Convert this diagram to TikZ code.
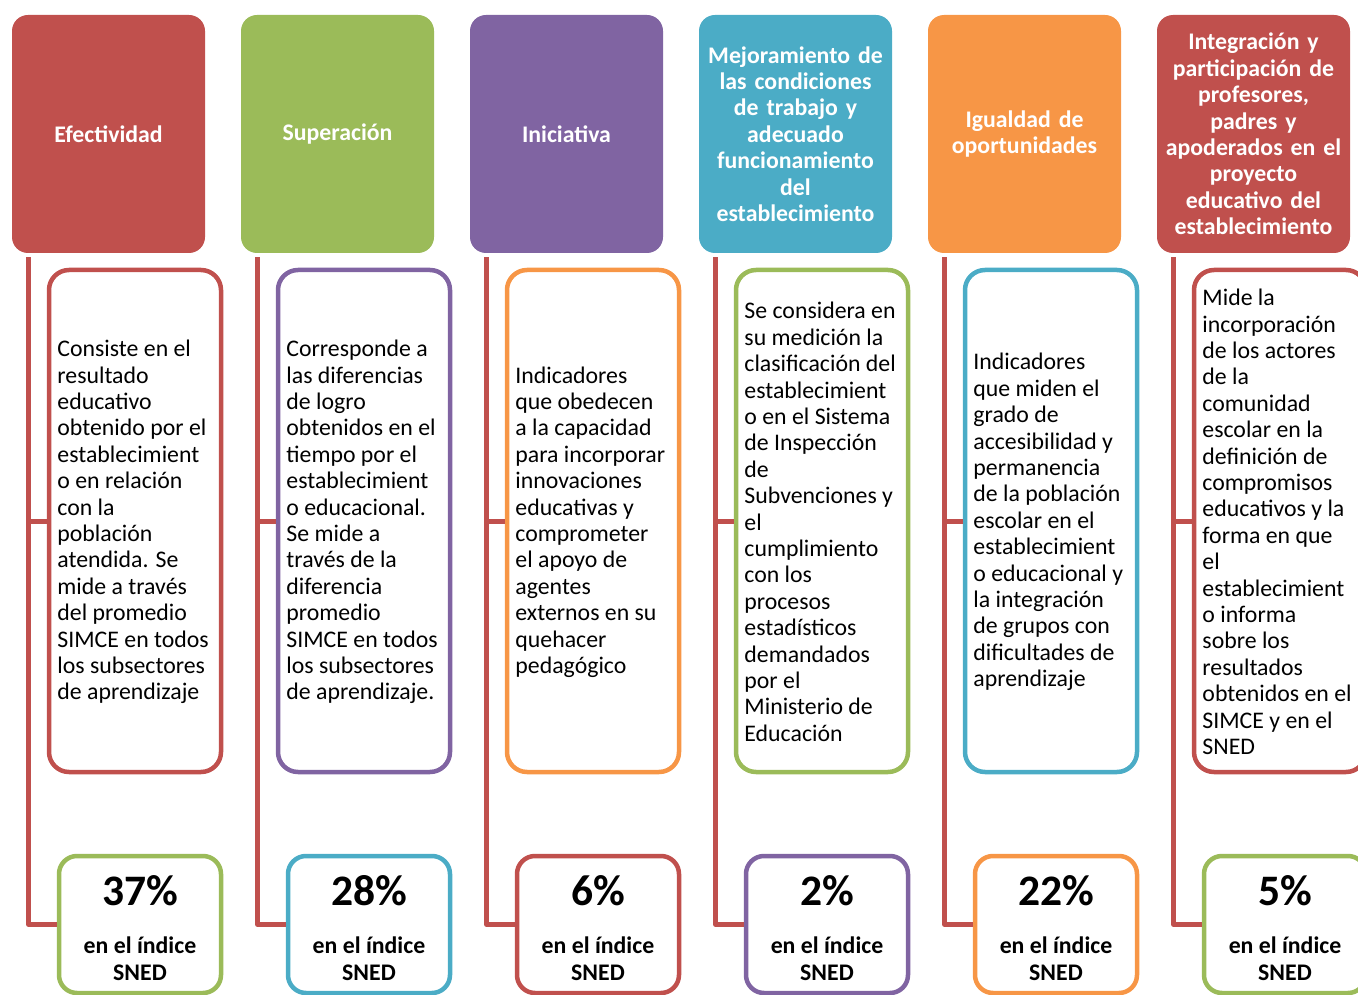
\documentclass[tikz,border=0pt]{standalone}
\usepackage{fontspec}
\setmainfont{Carlito}
\definecolor{cred}{HTML}{C0504D}
\definecolor{cgreen}{HTML}{9BBB59}
\definecolor{cpurple}{HTML}{8064A2}
\definecolor{caqua}{HTML}{4BACC6}
\definecolor{corange}{HTML}{F79646}
\tikzset{
  header/.style={rectangle, rounded corners=16pt, fill=#1, minimum width=193pt, minimum height=238pt,
    inner sep=0pt, text width=190pt, align=center, text=white,
    font=\fontsize{23.8}{26.4}\selectfont\bfseries},
  descbox/.style={rectangle, rounded corners=20pt, draw=#1, line width=4.5pt, minimum width=172pt, minimum height=502pt, inner sep=0pt},
  desctext/.style={anchor=west, inner sep=0pt, align=left, font=\fontsize{23.8}{26.4}\selectfont},
  botbox/.style={rectangle, rounded corners=18pt, draw=#1, line width=4.5pt, minimum width=162pt, minimum height=137pt, inner sep=0pt},
  bottext/.style={inner sep=0pt, align=center, font=\fontsize{23.8}{26.4}\selectfont\bfseries},
  conn/.style={draw=cred, line width=5pt, line join=round}
}
\newcommand{\botlabel}[1]{{\fontsize{43.5}{48}\selectfont #1}\\[22pt]en el índice\\SNED}
\begin{document}
\begin{tikzpicture}[x=1pt,y=-1pt]
\useasboundingbox (0,0) rectangle (1358,995);
\clip (0,0) rectangle (1358,995);
% headers
\node[header=cred]    (h1) at (108.5,134) {Efectividad};
\node[header=cgreen]  (h2) at (337.5,134) {Superación};
\node[header=cpurple] (h3) at (566.5,134) {Iniciativa};
\node[header=caqua]   (h4) at (795.5,134) {Mejoramiento de\\las condiciones\\de trabajo y\\adecuado\\funcionamiento\\del\\establecimiento};
\node[header=corange] (h5) at (1024.5,134) {Igualdad de\\oportunidades};
\node[header=cred]    (h6) at (1253.5,134) {Integración y\\participación de\\profesores,\\padres y\\apoderados en el\\proyecto\\educativo del\\establecimiento};
% description boxes
\node[descbox=cred]    (d1) at (135,521) {};
\node[descbox=cpurple] (d2) at (364,521) {};
\node[descbox=corange] (d3) at (593,521) {};
\node[descbox=cgreen]  (d4) at (822,521) {};
\node[descbox=caqua]   (d5) at (1051,521) {};
\node[descbox=cred]    (d6) at (1280,521) {};
\node[desctext] (t1) at ([xshift=10.5pt,yshift=-1pt]d1.west) {Consiste en el\\resultado\\educativo\\obtenido por el\\establecimient\\o en relación\\con la\\población\\atendida. Se\\mide a través\\del promedio\\SIMCE en todos\\los subsectores\\de aprendizaje};
\node[desctext] (t2) at ([xshift=10.5pt,yshift=-1pt]d2.west) {Corresponde a\\las diferencias\\de logro\\obtenidos en el\\tiempo por el\\establecimient\\o educacional.\\Se mide a\\través de la\\diferencia\\promedio\\SIMCE en todos\\los subsectores\\de aprendizaje.};
\node[desctext] (t3) at ([xshift=10.5pt,yshift=-1pt]d3.west) {Indicadores\\que obedecen\\a la capacidad\\para incorporar\\innovaciones\\educativas y\\comprometer\\el apoyo de\\agentes\\externos en su\\quehacer\\pedagógico};
\node[desctext] (t4) at ([xshift=10.5pt,yshift=-1pt]d4.west) {Se considera en\\su medición la\\clasificación del\\establecimient\\o en el Sistema\\de Inspección\\de\\Subvenciones y\\el\\cumplimiento\\con los\\procesos\\estadísticos\\demandados\\por el\\Ministerio de\\Educación};
\node[desctext] (t5) at ([xshift=10.5pt,yshift=-1pt]d5.west) {Indicadores\\que miden el\\grado de\\accesibilidad y\\permanencia\\de la población\\escolar en el\\establecimient\\o educacional y\\la integración\\de grupos con\\dificultades de\\aprendizaje};
\node[desctext] (t6) at ([xshift=10.5pt,yshift=-1pt]d6.west) {Mide la\\incorporación\\de los actores\\de la\\comunidad\\escolar en la\\definición de\\compromisos\\educativos y la\\forma en que\\el\\establecimient\\o informa\\sobre los\\resultados\\obtenidos en el\\SIMCE y en el\\SNED};
% bottom boxes
\node[botbox=cgreen]   (b1) at (140,924.5) {};
\node[botbox=caqua]    (b2) at (369,924.5) {};
\node[botbox=cred]     (b3) at (598,924.5) {};
\node[botbox=cpurple]  (b4) at (827,924.5) {};
\node[botbox=corange]  (b5) at (1056,924.5) {};
\node[botbox=cgreen]   (b6) at (1285,924.5) {};
\node[bottext] (p1) at ([yshift=-3.5pt]b1.center) {\botlabel{37\%}};
\node[bottext] (p2) at ([yshift=-3.5pt]b2.center) {\botlabel{28\%}};
\node[bottext] (p3) at ([yshift=-3.5pt]b3.center) {\botlabel{6\%}};
\node[bottext] (p4) at ([yshift=-3.5pt]b4.center) {\botlabel{2\%}};
\node[bottext] (p5) at ([yshift=-3.5pt]b5.center) {\botlabel{22\%}};
\node[bottext] (p6) at ([yshift=-3.5pt]b6.center) {\botlabel{5\%}};
% connectors
\foreach \i in {1,...,6}{
  \coordinate (s\i) at ([xshift=17pt,yshift=-4pt]h\i.south west);
  \draw[conn] (s\i) |- (b\i.west);
  \draw[conn] (d\i.west) -- (d\i.west -| s\i);
}
\end{tikzpicture}
\end{document}
